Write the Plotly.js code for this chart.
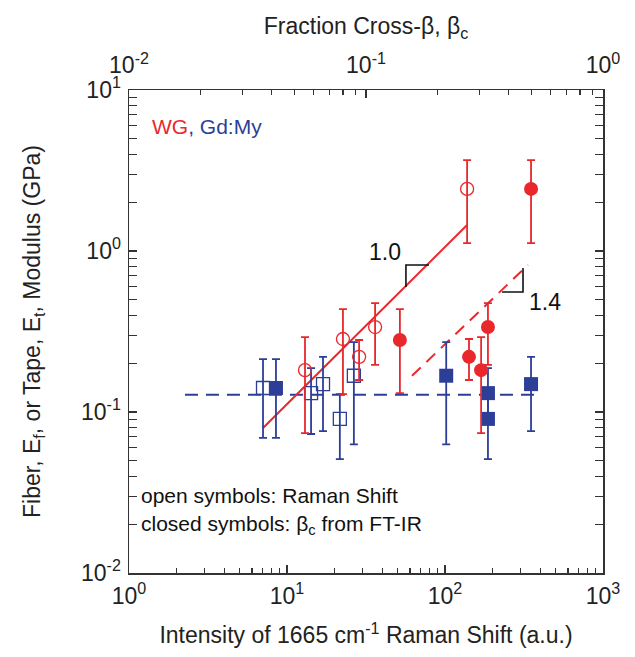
<!DOCTYPE html>
<html>
<head>
<meta charset="utf-8">
<script src="https://cdn.plot.ly/plotly-3.0.1.min.js"></script>
<style>html,body{margin:0;padding:0;background:#fff;}#chart{width:635px;height:657px;}</style>
</head>
<body>
<div id="chart"></div>
<script>
// ---- Data ----
// Open symbols: Raman shift intensity (bottom axis)
const ramanWG_x      = [13.0, 22.6, 28.6, 36.1, 138];
const ramanWG_y      = [0.182, 0.284, 0.220, 0.337, 2.43];
const ramanWG_hi     = [0.292, 0.436, 0.280, 0.475, 3.67];
const ramanWG_lo     = [0.074, 0.129, 0.158, 0.196, 1.12];

const ramanGd_x      = [7.05, 14.2, 16.9, 21.6, 26.5];
const ramanGd_y      = [0.141, 0.131, 0.149, 0.0906, 0.168];
const ramanGd_hi     = [0.213, 0.1875, 0.220, 0.129, 0.272];
const ramanGd_lo     = [0.069, 0.073, 0.076, 0.051, 0.063];

// Closed symbols: fraction cross-beta from FT-IR (top axis)
const ftirWG_beta    = [0.139, 0.272, 0.306, 0.327, 0.497];
const ftirWG_y       = [0.280, 0.220, 0.182, 0.337, 2.43];
const ftirWG_hi      = [0.436, 0.284, 0.292, 0.475, 3.67];
const ftirWG_lo      = [0.131, 0.158, 0.074, 0.196, 1.12];

const ftirGd_beta    = [0.0417, 0.218, 0.327, 0.327, 0.497];
const ftirGd_y       = [0.141, 0.168, 0.131, 0.0906, 0.149];
const ftirGd_hi      = [0.213, 0.272, 0.1875, 0.131, 0.220];
const ftirGd_lo      = [0.069, 0.063, 0.0906, 0.051, 0.076];

// Guide lines (bottom axis coordinates)
const fitWG_x        = [7.05, 138];
const fitWG_y        = [0.0796, 1.45];
const fitWG2_x       = [61.8, 335];
const fitWG2_y       = [0.168, 0.818];
const gdMean_x       = [2.26, 411];
const gdMean_y       = [0.128, 0.128];

// Slope triangles
const slope10_x      = [56.6, 56.6, 79.2];
const slope10_y      = [0.597, 0.818, 0.818];
const slope14_x      = [229.6, 311.7, 311.7];
const slope14_y      = [0.556, 0.556, 0.784];
const slopeLabels    = ['1.0', '1.4'];
const slopeLabel_x   = [41.7, 429];
const slopeLabel_y   = [0.986, 0.482];

// Axis ticks
const xTickVals  = [1, 10, 100, 1000];
const xTickText  = ['10<sup>0</sup>', '10<sup>1</sup>', '10<sup>2</sup>', '10<sup>3</sup>'];
const x2TickVals = [0.01, 0.1, 1];
const x2TickText = ['10<sup>-2</sup>', '10<sup>-1</sup>', '10<sup>0</sup>'];
const yTickVals  = [0.01, 0.1, 1, 10];
const yTickText  = ['10<sup>-2</sup>', '10<sup>-1</sup>', '10<sup>0</sup>', '10<sup>1</sup>'];

// ---- Styling ----
const RED = '#e8282b';
const BLUE = '#2c3e98';
const AX = '#333333';
const FONT = 'Liberation Sans, Arial, sans-serif';

function minorVals(lo, hi) {
  const v = [];
  for (let e = lo; e < hi; e++) for (let m = 2; m <= 9; m++) v.push(m * Math.pow(10, e));
  return v;
}
function plus(hi, y) { return hi.map((h, i) => h - y[i]); }
function minus(lo, y) { return lo.map((l, i) => y[i] - l); }

function errBar(hi, lo, y, color) {
  return {type: 'data', symmetric: false, array: plus(hi, y), arrayminus: minus(lo, y),
          color: color, thickness: 1.8, width: 4};
}

const traces = [
  {x: gdMean_x, y: gdMean_y, mode: 'lines', line: {color: BLUE, width: 2, dash: '13px,8px'}, hoverinfo: 'skip'},
  {x: fitWG_x, y: fitWG_y, mode: 'lines', line: {color: RED, width: 2}, hoverinfo: 'skip'},
  {x: fitWG2_x, y: fitWG2_y, mode: 'lines', line: {color: RED, width: 2, dash: '12px,8px'}, hoverinfo: 'skip'},
  {x: slope10_x, y: slope10_y, mode: 'lines', line: {color: '#111', width: 1.6}, hoverinfo: 'skip'},
  {x: slope14_x, y: slope14_y, mode: 'lines', line: {color: '#111', width: 1.6}, hoverinfo: 'skip'},
  {x: ramanGd_x, y: ramanGd_y, mode: 'markers', name: 'Gd:My Raman',
   marker: {symbol: 'square-open', size: 13, color: BLUE, line: {width: 1.3}},
   error_y: errBar(ramanGd_hi, ramanGd_lo, ramanGd_y, BLUE)},
  {x: ftirGd_beta, y: ftirGd_y, xaxis: 'x2', mode: 'markers', name: 'Gd:My FT-IR',
   marker: {symbol: 'square', size: 14, color: BLUE},
   error_y: errBar(ftirGd_hi, ftirGd_lo, ftirGd_y, BLUE)},
  {x: ramanWG_x, y: ramanWG_y, mode: 'markers', name: 'WG Raman',
   marker: {symbol: 'circle-open', size: 13, color: RED, line: {width: 1.3}},
   error_y: errBar(ramanWG_hi, ramanWG_lo, ramanWG_y, RED)},
  {x: ftirWG_beta, y: ftirWG_y, xaxis: 'x2', mode: 'markers', name: 'WG FT-IR',
   marker: {symbol: 'circle', size: 14, color: RED},
   error_y: errBar(ftirWG_hi, ftirWG_lo, ftirWG_y, RED)}
];

const tickFont = {family: FONT, size: 23, color: '#222'};
const titleFont = {family: FONT, size: 23, color: '#222'};

const annotations = slopeLabels.map((t, i) => ({
  x: Math.log10(slopeLabel_x[i]), y: Math.log10(slopeLabel_y[i]), xref: 'x', yref: 'y',
  text: t, showarrow: false, font: {family: FONT, size: 23, color: '#111'}
}));
annotations.push(
  {xref: 'paper', yref: 'paper', x: 0.045, y: 0.925, xanchor: 'left', yanchor: 'middle', showarrow: false,
   text: '<span style="color:' + RED + '">WG</span><span style="color:' + BLUE + '">, Gd:My</span>',
   font: {family: FONT, size: 21}},
  {xref: 'paper', yref: 'paper', x: 0.022, y: 0.16, xanchor: 'left', yanchor: 'middle', showarrow: false,
   text: 'open symbols: Raman Shift', font: {family: FONT, size: 21, color: '#111'}},
  {xref: 'paper', yref: 'paper', x: 0.022, y: 0.10, xanchor: 'left', yanchor: 'middle', showarrow: false,
   text: 'closed symbols: \u03B2<sub>c</sub> from FT-IR', font: {family: FONT, size: 21, color: '#111'}}
);

const layout = {
  width: 635, height: 657,
  margin: {l: 129, r: 32, t: 90, b: 84},
  paper_bgcolor: '#fff', plot_bgcolor: '#fff',
  showlegend: false,
  font: {family: FONT, color: '#222'},
  xaxis: {
    type: 'log', range: [0, 3], showgrid: false, zeroline: false,
    showline: true, linecolor: AX, linewidth: 1.5, mirror: false,
    ticks: 'inside', ticklen: 8, tickwidth: 1.3, tickcolor: AX, ticklabelstandoff: 2,
    tickvals: xTickVals, ticktext: xTickText, tickfont: tickFont,
    minor: {tickvals: minorVals(0, 3), ticks: 'inside', ticklen: 5, tickwidth: 1.1, tickcolor: AX},
    title: {text: 'Intensity of 1665 cm<sup>-1</sup> Raman Shift (a.u.)', font: titleFont, standoff: 19}
  },
  xaxis2: {
    type: 'log', range: [-2, 0], overlaying: 'x', side: 'top', anchor: 'y',
    showgrid: false, zeroline: false, showline: true, linecolor: AX, linewidth: 1.5,
    ticks: 'inside', ticklen: 8, tickwidth: 1.3, tickcolor: AX, ticklabelstandoff: 6,
    tickvals: x2TickVals, ticktext: x2TickText, tickfont: tickFont,
    minor: {tickvals: minorVals(-2, 0), ticks: 'inside', ticklen: 5, tickwidth: 1.1, tickcolor: AX},
    title: {text: 'Fraction Cross-\u03B2, \u03B2<sub>c</sub>', font: titleFont, standoff: 7}
  },
  yaxis: {
    type: 'log', range: [-2, 1], showgrid: false, zeroline: false,
    showline: true, linecolor: AX, linewidth: 1.5, mirror: 'allticks',
    ticks: 'inside', ticklen: 8, tickwidth: 1.3, tickcolor: AX, ticklabelstandoff: 2,
    tickvals: yTickVals, ticktext: yTickText, tickfont: tickFont,
    minor: {tickvals: minorVals(-2, 1), ticks: 'inside', ticklen: 5, tickwidth: 1.1, tickcolor: AX},
    title: {text: 'Fiber, E<sub>f</sub>, or Tape, E<sub>t</sub>, Modulus (GPa)', font: titleFont, standoff: 34}
  },
  annotations: annotations
};

Plotly.newPlot('chart', traces, layout, {displayModeBar: false, staticPlot: true});
</script>
</body>
</html>
